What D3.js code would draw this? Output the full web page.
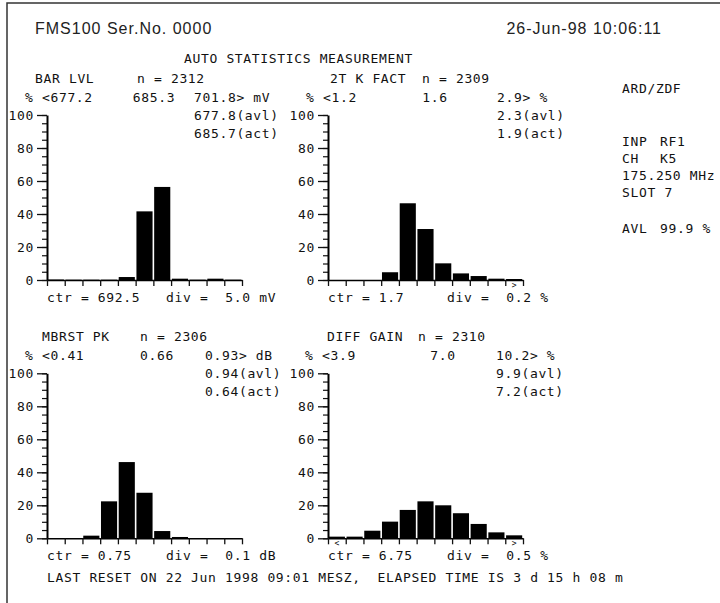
<!DOCTYPE html>
<html>
<head>
<meta charset="utf-8">
<script src="https://cdn.jsdelivr.net/npm/d3@7"></script>
<style>
  body { margin: 0; background: #fff; }
  svg text { white-space: pre; }
  .mono { font-family: "DejaVu Sans Mono", monospace; font-size: 13px; letter-spacing: 0.65px; fill: #111; }
  .head { font-family: "Liberation Sans", Arial, sans-serif; font-size: 16px; letter-spacing: 1px; fill: #222; }
</style>
</head>
<body>
<svg id="chart" width="720" height="603"></svg>
<script>
// histogram bins (% of samples), 11 bins per measurement
const barLvl   = [0.3, 0.2, 0.2, 0.2, 1.8, 41.6, 56.4, 0.8, 0.2, 0.8, 0.2];
const kFact    = [0, 0, 0, 4.7, 46.5, 30.9, 10.1, 4.0, 2.4, 0.8, 0.6];
const mbrstPk  = [0, 0, 1.6, 22.4, 46.2, 27.6, 4.4, 0.8, 0, 0, 0];
const diffGain = [1.0, 1.0, 4.6, 10.1, 17.2, 22.4, 20.0, 15.2, 8.7, 3.6, 1.8];

const titles   = ["BAR LVL", "2T K FACT", "MBRST PK", "DIFF GAIN"];
const counts   = [2312, 2309, 2306, 2310];
const lowEdge  = ["677.2", "1.2", "0.41", "3.9"];
const medians  = ["685.3", "1.6", "0.66", "7.0"];
const highEdge = ["701.8", "2.9", "0.93", "10.2"];
const units    = ["mV", "%", "dB", "%"];
const avlVals  = ["677.8", "2.3", "0.94", "9.9"];
const actVals  = ["685.7", "1.9", "0.64", "7.2"];
const ctrVals  = ["692.5", "1.7", "0.75", "6.75"];
const divVals  = ["5.0", "0.2", "0.1", "0.5"];
const overLow  = [false, false, false, true];
const overHigh = [false, true, false, true];
const yTicks   = [0, 20, 40, 60, 80, 100];
const infoRows = [["ARD/ZDF", ""], ["INP", "RF1"], ["CH", "K5"], ["175.250 MHz", ""], ["SLOT 7", ""], ["AVL", "99.9 %"]];

const series = [barLvl, kFact, mbrstPk, diffGain];

const svg = d3.select("#chart");

// frame
svg.append("path").attr("d", "M7,603 V3 H720").attr("fill", "none").attr("stroke", "#333").attr("stroke-width", 1.5);

svg.append("text").attr("class", "head").attr("x", 35).attr("y", 28).attr("dominant-baseline", "central").text("FMS100 Ser.No. 0000");
svg.append("text").attr("class", "head").attr("x", 662).attr("y", 28).attr("text-anchor", "end").attr("dominant-baseline", "central").text("26-Jun-98 10:06:11");
svg.append("text").attr("class", "mono").attr("x", 184).attr("y", 58).attr("dominant-baseline", "central").text("AUTO STATISTICS MEASUREMENT");

// layout per panel
const ox = [47, 328, 47, 328];
const oy = [280, 280, 538.3, 538.3];
const titleX = [35, 330, 42, 327];
const nX = [137, 422, 140, 418];
const lowX = [25, 306, 25, 305];
const medX = [154, 435, 157, 443];
const rightX = [194, 497, 205, 496];
const W = 195, H = 165;

series.forEach((vals, p) => {
    const g = svg.append("g");
    const x = d3.scaleLinear([0, vals.length], [ox[p], ox[p] + W]);
    const y = d3.scaleLinear([0, 100], [oy[p], oy[p] - H]);

    const t = (tx, ty, s, anchor) => g.append("text").attr("class", "mono")
        .attr("x", tx).attr("y", ty).attr("text-anchor", anchor || "start")
        .attr("dominant-baseline", "central").text(s);

    t(titleX[p], oy[p] - 202, titles[p]);
    t(nX[p], oy[p] - 202, "n = " + counts[p]);
    t(lowX[p], oy[p] - 183, "% <" + lowEdge[p]);
    t(medX[p], oy[p] - 183, medians[p], "middle");
    t(rightX[p], oy[p] - 183, highEdge[p] + "> " + units[p]);
    t(rightX[p], oy[p] - 165, avlVals[p] + "(avl)");
    t(rightX[p], oy[p] - 147, actVals[p] + "(act)");
    t(ox[p], oy[p] + 17.5, "ctr = " + ctrVals[p]);
    t(ox[p] + 119, oy[p] + 17.5, "div =  " + divVals[p] + " " + units[p]);

    // bars
    g.append("g").selectAll("rect").data(vals).join("rect")
        .attr("x", (d, i) => x(i) + 0.8)
        .attr("width", x(1) - x(0) - 1.6)
        .attr("y", d => y(d))
        .attr("height", d => y(0) - y(d))
        .attr("fill", "#000");

    // minor y ticks
    g.append("g").attr("transform", `translate(${ox[p]},0)`)
        .call(d3.axisLeft(y).tickValues(d3.range(0, 101, 5)).tickSize(5).tickSizeOuter(0).tickFormat(""))
        .call(a => a.select(".domain").remove())
        .call(a => a.selectAll("line").attr("stroke", "#111").attr("stroke-width", 1.2));

    // major y ticks
    g.append("g").attr("transform", `translate(${ox[p]},0)`)
        .call(d3.axisLeft(y).tickValues(yTicks).tickSize(10).tickSizeOuter(0).tickPadding(3))
        .call(a => a.select(".domain").attr("stroke", "#000").attr("stroke-width", 2))
        .call(a => a.selectAll("line").attr("stroke", "#111").attr("stroke-width", 1.3))
        .call(a => a.selectAll("text").attr("class", "mono").attr("font-family", null).attr("font-size", null).attr("fill", null));

    // x axis with bin boundaries
    g.append("g").attr("transform", `translate(0,${oy[p]})`)
        .call(d3.axisBottom(x).tickValues(d3.range(vals.length + 1)).tickSize(6).tickSizeOuter(0).tickFormat(""))
        .call(a => a.select(".domain").attr("stroke", "#000").attr("stroke-width", 1.6))
        .call(a => a.selectAll("line").attr("stroke", "#111").attr("stroke-width", 1.3));

    const mark = (i, s) => g.append("text").attr("x", (x(i) + x(i + 1)) / 2).attr("y", oy[p] + 5)
        .attr("text-anchor", "middle").attr("dominant-baseline", "central")
        .attr("font-family", "DejaVu Sans Mono").attr("font-size", 8).attr("fill", "#111").text(s);
    if (overLow[p]) mark(0, "<");
    if (overHigh[p]) mark(vals.length - 1, ">");
});

// side info
const infoY = [88, 141, 158, 175, 192, 228];
infoRows.forEach((r, i) => {
    svg.append("text").attr("class", "mono").attr("x", 622).attr("y", infoY[i]).attr("dominant-baseline", "central").text(r[0]);
    if (r[1]) svg.append("text").attr("class", "mono").attr("x", 660).attr("y", infoY[i]).attr("dominant-baseline", "central").text(r[1]);
});

svg.append("text").attr("class", "mono").attr("x", 47).attr("y", 577).attr("dominant-baseline", "central")
    .text("LAST RESET ON 22 Jun 1998 09:01 MESZ,  ELAPSED TIME IS 3 d 15 h 08 m");
</script>
</body>
</html>
